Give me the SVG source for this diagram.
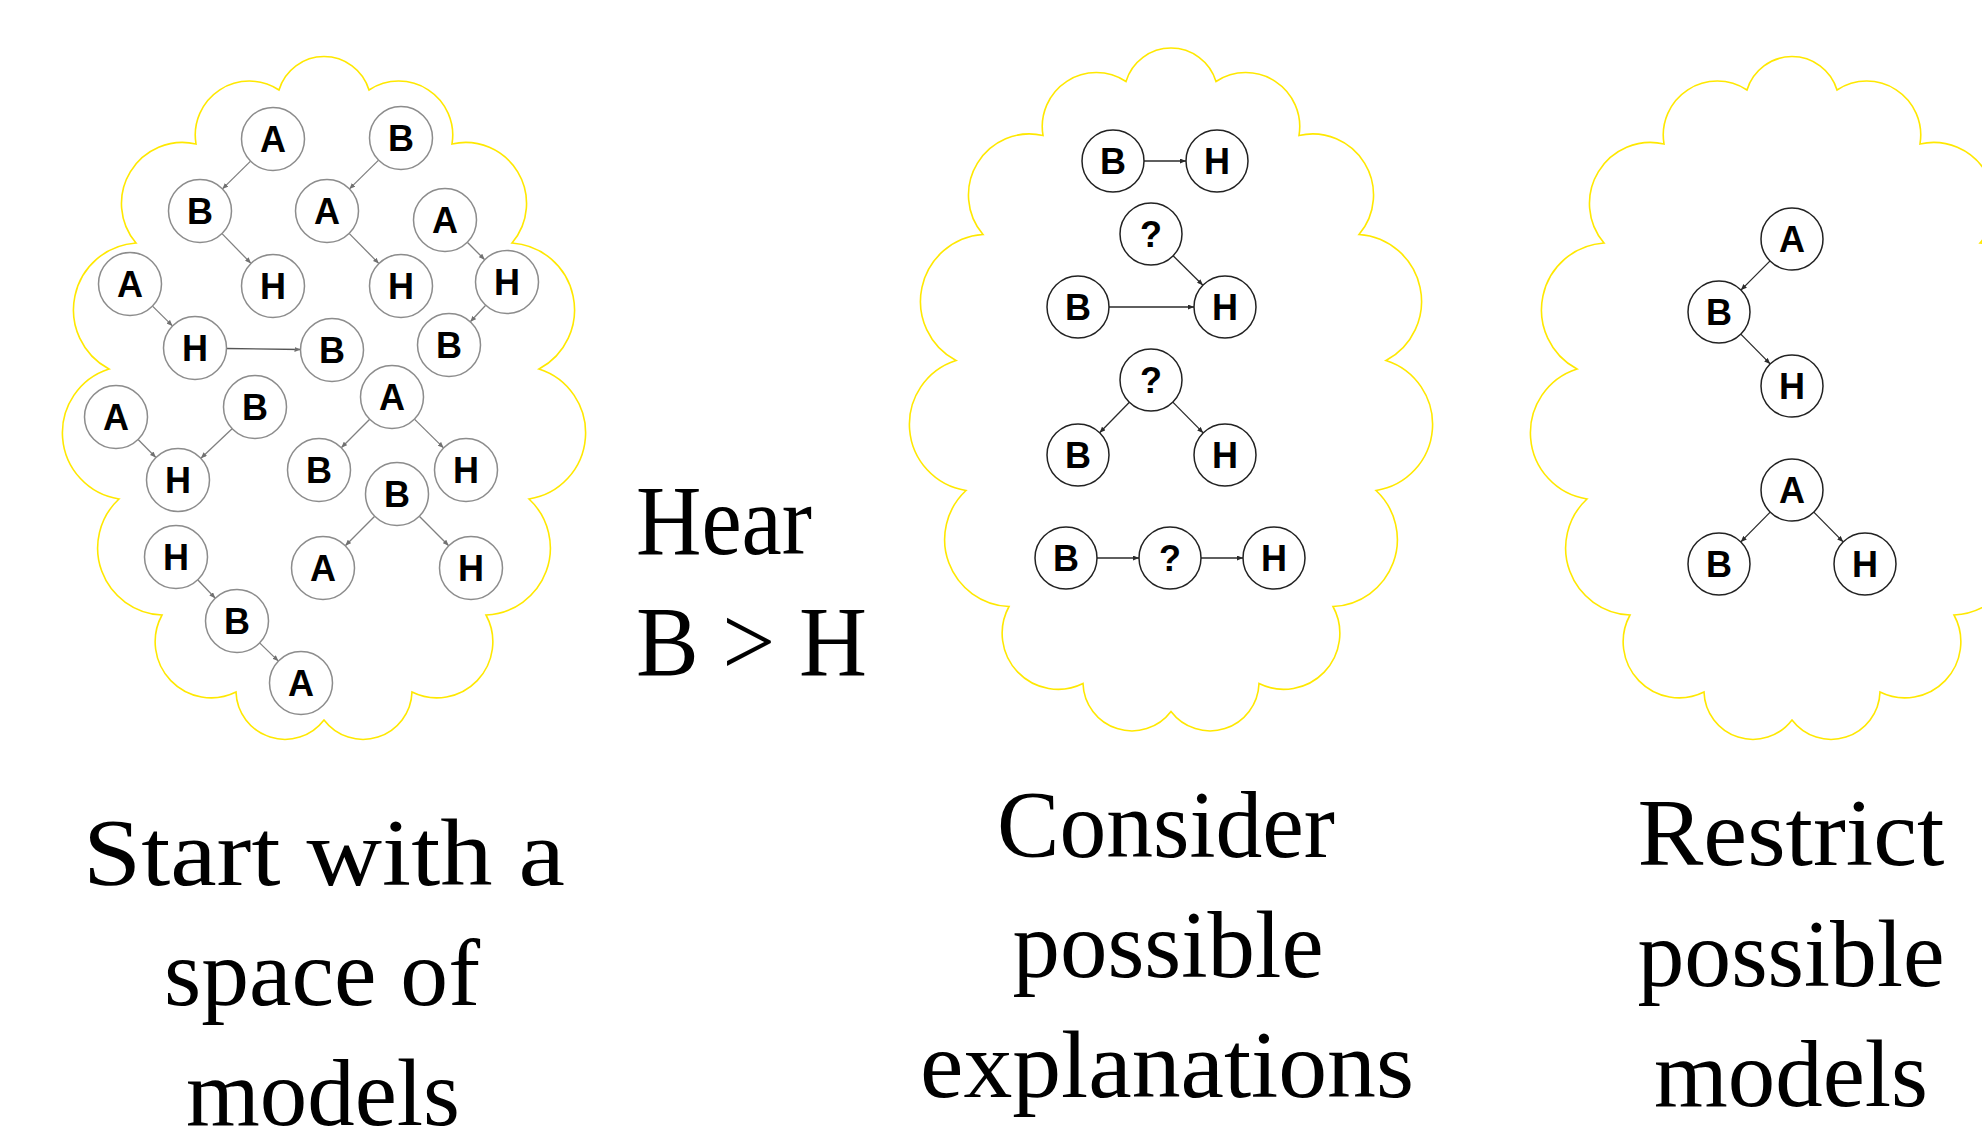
<svg xmlns="http://www.w3.org/2000/svg" width="1982" height="1126" viewBox="0 0 1982 1126">
<style>
.cloud{fill:none;stroke:#ffe800;stroke-width:1.6}
.n circle{fill:#fff;stroke:#222;stroke-width:1.5}
.g circle{stroke:#8c8c8c}
.n text{font-family:"Liberation Sans",Arial,sans-serif;font-weight:bold;font-size:36px;text-anchor:middle;fill:#000}
.e{fill:none;stroke:#2a2a2a;stroke-width:1.3;marker-end:url(#ah)}
.eg{fill:none;stroke:#808080;stroke-width:1.3;marker-end:url(#ahg)}
.lbl{font-family:"Liberation Serif","Times New Roman",serif;font-size:96px;text-anchor:middle;fill:#000}
.hear{font-family:"Liberation Serif","Times New Roman",serif;font-size:100px;fill:#000}
</style>
<defs>
<marker id="ah" viewBox="0 0 6 5" refX="6" refY="2.5" markerWidth="6" markerHeight="5" orient="auto" markerUnits="userSpaceOnUse"><path d="M0,0 L6,2.5 L0,5 z" fill="#2a2a2a"/></marker>
<marker id="ahg" viewBox="0 0 6 5" refX="6" refY="2.5" markerWidth="6" markerHeight="5" orient="auto" markerUnits="userSpaceOnUse"><path d="M0,0 L6,2.5 L0,5 z" fill="#707070"/></marker>
<path id="cloudshape" d="M279,90 A47,47 0 0 1 369,90 A54,54 0 0 1 452,144 A61,61 0 0 1 512,243 A67,67 0 0 1 539,369 A67,67 0 0 1 529,499 A67,67 0 0 1 486,615 A56,56 0 0 1 412,692 A49,49 0 0 1 324,720 A49,49 0 0 1 236,692 A56,56 0 0 1 162,615 A67,67 0 0 1 119,499 A67,67 0 0 1 109,369 A67,67 0 0 1 136,243 A61,61 0 0 1 196,144 A54,54 0 0 1 279,90 Z"/>
</defs>
<rect width="1982" height="1126" fill="#fff"/>
<g id="clouds">
<use href="#cloudshape" class="cloud"/>
<use href="#cloudshape" class="cloud" transform="translate(847,-8.5)"/>
<use href="#cloudshape" class="cloud" transform="translate(1468,0)"/>
</g>
<g id="connectors">
<line class="eg" x1="250.6" y1="161.1" x2="222.4" y2="188.9"/>
<line class="eg" x1="222" y1="233.6" x2="251" y2="263.4"/>
<line class="eg" x1="378.6" y1="160.1" x2="349.4" y2="188.9"/>
<line class="eg" x1="349.1" y1="233.4" x2="378.9" y2="263.6"/>
<line class="eg" x1="467.3" y1="242.3" x2="484.7" y2="259.7"/>
<line class="eg" x1="485.7" y1="305.2" x2="470.3" y2="321.8"/>
<line class="eg" x1="152.5" y1="306.1" x2="172.5" y2="325.9"/>
<line class="eg" x1="226.5" y1="348.5" x2="300.5" y2="349.5" style="stroke:#555"/>
<line class="eg" x1="138.1" y1="439.5" x2="155.9" y2="457.5"/>
<line class="eg" x1="232.1" y1="428.7" x2="200.9" y2="458.3"/>
<line class="eg" x1="369.7" y1="419.3" x2="341.3" y2="447.7"/>
<line class="eg" x1="414.4" y1="419.1" x2="443.6" y2="447.9"/>
<line class="eg" x1="374.7" y1="516.3" x2="345.3" y2="545.7"/>
<line class="eg" x1="419.3" y1="516.3" x2="448.7" y2="545.7"/>
<line class="eg" x1="197.7" y1="579.8" x2="215.3" y2="598.2"/>
<line class="eg" x1="259.6" y1="642.9" x2="278.4" y2="661.1"/>
<line class="e" x1="1144" y1="161" x2="1186" y2="161"/>
<line class="e" x1="1173.1" y1="255.8" x2="1202.9" y2="285.2"/>
<line class="e" x1="1109" y1="307" x2="1194" y2="307"/>
<line class="e" x1="1129.4" y1="402.2" x2="1099.6" y2="432.8"/>
<line class="e" x1="1172.8" y1="402.1" x2="1203.2" y2="432.9"/>
<line class="e" x1="1097" y1="558" x2="1139" y2="558"/>
<line class="e" x1="1201" y1="558" x2="1243" y2="558"/>
<line class="e" x1="1770.1" y1="260.9" x2="1740.9" y2="290.1"/>
<line class="e" x1="1740.8" y1="334.1" x2="1770.2" y2="363.9"/>
<line class="e" x1="1770.2" y1="512.1" x2="1740.8" y2="541.9"/>
<line class="e" x1="1813.8" y1="512.1" x2="1843.2" y2="541.9"/>
</g>
<g id="space-nodes">
<g id="L-A1" class="n g"><circle cx="273" cy="139" r="31.5"/><text x="273" y="152">A</text></g>
<g id="L-B1" class="n g"><circle cx="401" cy="138" r="31.5"/><text x="401" y="151">B</text></g>
<g id="L-B2" class="n g"><circle cx="200" cy="211" r="31.5"/><text x="200" y="224">B</text></g>
<g id="L-A2" class="n g"><circle cx="327" cy="211" r="31.5"/><text x="327" y="224">A</text></g>
<g id="L-A3" class="n g"><circle cx="445" cy="220" r="31.5"/><text x="445" y="233">A</text></g>
<g id="L-A4" class="n g"><circle cx="130" cy="284" r="31.5"/><text x="130" y="297">A</text></g>
<g id="L-H1" class="n g"><circle cx="273" cy="286" r="31.5"/><text x="273" y="299">H</text></g>
<g id="L-H2" class="n g"><circle cx="401" cy="286" r="31.5"/><text x="401" y="299">H</text></g>
<g id="L-H3" class="n g"><circle cx="507" cy="282" r="31.5"/><text x="507" y="295">H</text></g>
<g id="L-H4" class="n g"><circle cx="195" cy="348" r="31.5"/><text x="195" y="361">H</text></g>
<g id="L-B3" class="n g"><circle cx="332" cy="350" r="31.5"/><text x="332" y="363">B</text></g>
<g id="L-B4" class="n g"><circle cx="449" cy="345" r="31.5"/><text x="449" y="358">B</text></g>
<g id="L-A5" class="n g"><circle cx="116" cy="417" r="31.5"/><text x="116" y="430">A</text></g>
<g id="L-B5" class="n g"><circle cx="255" cy="407" r="31.5"/><text x="255" y="420">B</text></g>
<g id="L-A6" class="n g"><circle cx="392" cy="397" r="31.5"/><text x="392" y="410">A</text></g>
<g id="L-H5" class="n g"><circle cx="178" cy="480" r="31.5"/><text x="178" y="493">H</text></g>
<g id="L-B6" class="n g"><circle cx="319" cy="470" r="31.5"/><text x="319" y="483">B</text></g>
<g id="L-H6" class="n g"><circle cx="466" cy="470" r="31.5"/><text x="466" y="483">H</text></g>
<g id="L-B7" class="n g"><circle cx="397" cy="494" r="31.5"/><text x="397" y="507">B</text></g>
<g id="L-H7" class="n g"><circle cx="176" cy="557" r="31.5"/><text x="176" y="570">H</text></g>
<g id="L-A7" class="n g"><circle cx="323" cy="568" r="31.5"/><text x="323" y="581">A</text></g>
<g id="L-H8" class="n g"><circle cx="471" cy="568" r="31.5"/><text x="471" y="581">H</text></g>
<g id="L-B8" class="n g"><circle cx="237" cy="621" r="31.5"/><text x="237" y="634">B</text></g>
<g id="L-A8" class="n g"><circle cx="301" cy="683" r="31.5"/><text x="301" y="696">A</text></g>
</g>
<g id="explanation-nodes">
<g id="M-B1" class="n"><circle cx="1113" cy="161" r="31"/><text x="1113" y="174">B</text></g>
<g id="M-H1" class="n"><circle cx="1217" cy="161" r="31"/><text x="1217" y="174">H</text></g>
<g id="M-Q2" class="n"><circle cx="1151" cy="234" r="31"/><text x="1151" y="247">?</text></g>
<g id="M-B2" class="n"><circle cx="1078" cy="307" r="31"/><text x="1078" y="320">B</text></g>
<g id="M-H2" class="n"><circle cx="1225" cy="307" r="31"/><text x="1225" y="320">H</text></g>
<g id="M-Q3" class="n"><circle cx="1151" cy="380" r="31"/><text x="1151" y="393">?</text></g>
<g id="M-B3" class="n"><circle cx="1078" cy="455" r="31"/><text x="1078" y="468">B</text></g>
<g id="M-H3" class="n"><circle cx="1225" cy="455" r="31"/><text x="1225" y="468">H</text></g>
<g id="M-B4" class="n"><circle cx="1066" cy="558" r="31"/><text x="1066" y="571">B</text></g>
<g id="M-Q4" class="n"><circle cx="1170" cy="558" r="31"/><text x="1170" y="571">?</text></g>
<g id="M-H4" class="n"><circle cx="1274" cy="558" r="31"/><text x="1274" y="571">H</text></g>
</g>
<g id="restricted-nodes">
<g id="R-A1" class="n"><circle cx="1792" cy="239" r="31"/><text x="1792" y="252">A</text></g>
<g id="R-B1" class="n"><circle cx="1719" cy="312" r="31"/><text x="1719" y="325">B</text></g>
<g id="R-H1" class="n"><circle cx="1792" cy="386" r="31"/><text x="1792" y="399">H</text></g>
<g id="R-A2" class="n"><circle cx="1792" cy="490" r="31"/><text x="1792" y="503">A</text></g>
<g id="R-B2" class="n"><circle cx="1719" cy="564" r="31"/><text x="1719" y="577">B</text></g>
<g id="R-H2" class="n"><circle cx="1865" cy="564" r="31"/><text x="1865" y="577">H</text></g>
</g>
<g id="labels">
<text class="hear" x="636" y="554" textLength="176" lengthAdjust="spacingAndGlyphs">Hear</text>
<text class="hear" x="636" y="675" textLength="231" lengthAdjust="spacingAndGlyphs">B &gt; H</text>
<text class="lbl" x="324" y="885" textLength="482" lengthAdjust="spacingAndGlyphs">Start with a</text>
<text class="lbl" x="322" y="1005" textLength="316" lengthAdjust="spacingAndGlyphs">space of</text>
<text class="lbl" x="323" y="1125" textLength="274" lengthAdjust="spacingAndGlyphs">models</text>
<text class="lbl" x="1166" y="857" textLength="338" lengthAdjust="spacingAndGlyphs">Consider</text>
<text class="lbl" x="1168" y="977" textLength="311" lengthAdjust="spacingAndGlyphs">possible</text>
<text class="lbl" x="1167" y="1097" textLength="494" lengthAdjust="spacingAndGlyphs">explanations</text>
<text class="lbl" x="1791" y="865" textLength="307" lengthAdjust="spacingAndGlyphs">Restrict</text>
<text class="lbl" x="1791" y="986" textLength="307" lengthAdjust="spacingAndGlyphs">possible</text>
<text class="lbl" x="1791" y="1106" textLength="274" lengthAdjust="spacingAndGlyphs">models</text>
</g>
</svg>
